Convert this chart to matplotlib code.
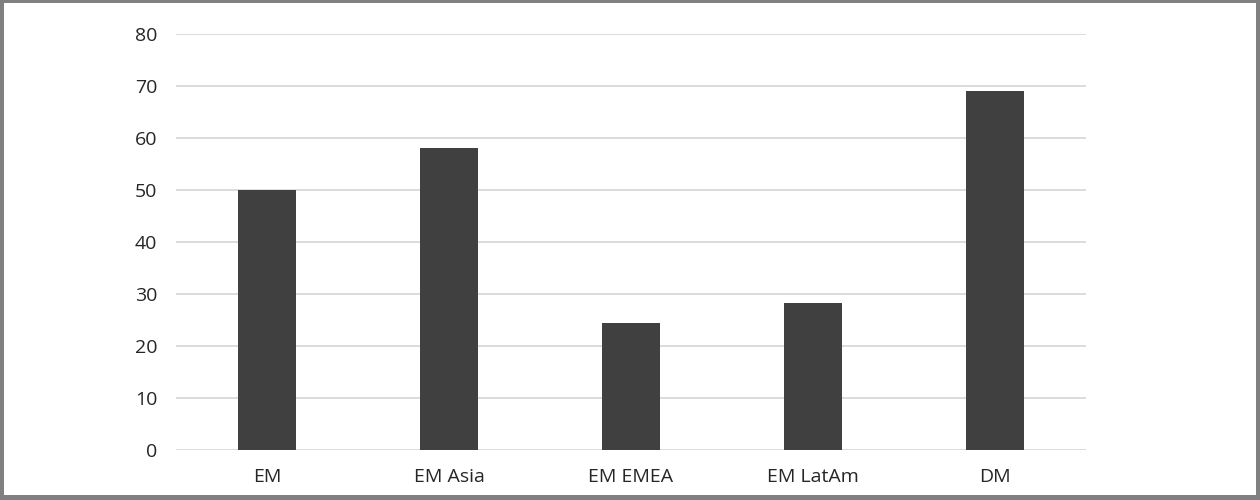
import matplotlib.pyplot as plt
from matplotlib.patches import Rectangle

categories = ['EM', 'EM Asia', 'EM EMEA', 'EM LatAm', 'DM']
values = [50.0, 58.0, 24.4, 28.3, 69.0]
y_ticks = [0, 10, 20, 30, 40, 50, 60, 70, 80]

plt.rcParams['font.family'] = ['Open Sans', 'DejaVu Sans']

W, H = 1260, 500
fig = plt.figure(figsize=(W / 100, H / 100), dpi=100)
ax = fig.add_axes([176 / W, 1 - 450 / H, (1086 - 176) / W, (450 - 34) / H])

x = range(len(categories))
ax.bar(x, values, width=0.315, color='#404040', zorder=3)
ax.set_xlim(-0.5, len(categories) - 0.5)
ax.set_ylim(0, 80)
ax.set_yticks(y_ticks)
ax.set_xticks(list(x))
ax.set_xticklabels(categories)
ax.grid(axis='y', color='#d9d9d9', linewidth=1.3, zorder=0)
for s in ax.spines.values():
    s.set_visible(False)
ax.tick_params(axis='both', length=0, labelsize=14, colors='#262626')
ax.tick_params(axis='y', pad=13.5)
ax.tick_params(axis='x', pad=13)

# gray frame around the picture
gray = '#808080'
for (x0, y0, w, h) in [(0, 0, 4, H), (W - 4, 0, 4, H), (0, 0, W, 5), (0, H - 3, W, 3)]:
    fig.add_artist(Rectangle((x0 / W, y0 / H), w / W, h / H, transform=fig.transFigure,
                             color=gray, lw=0))

fig.savefig('out.png', dpi=100)
